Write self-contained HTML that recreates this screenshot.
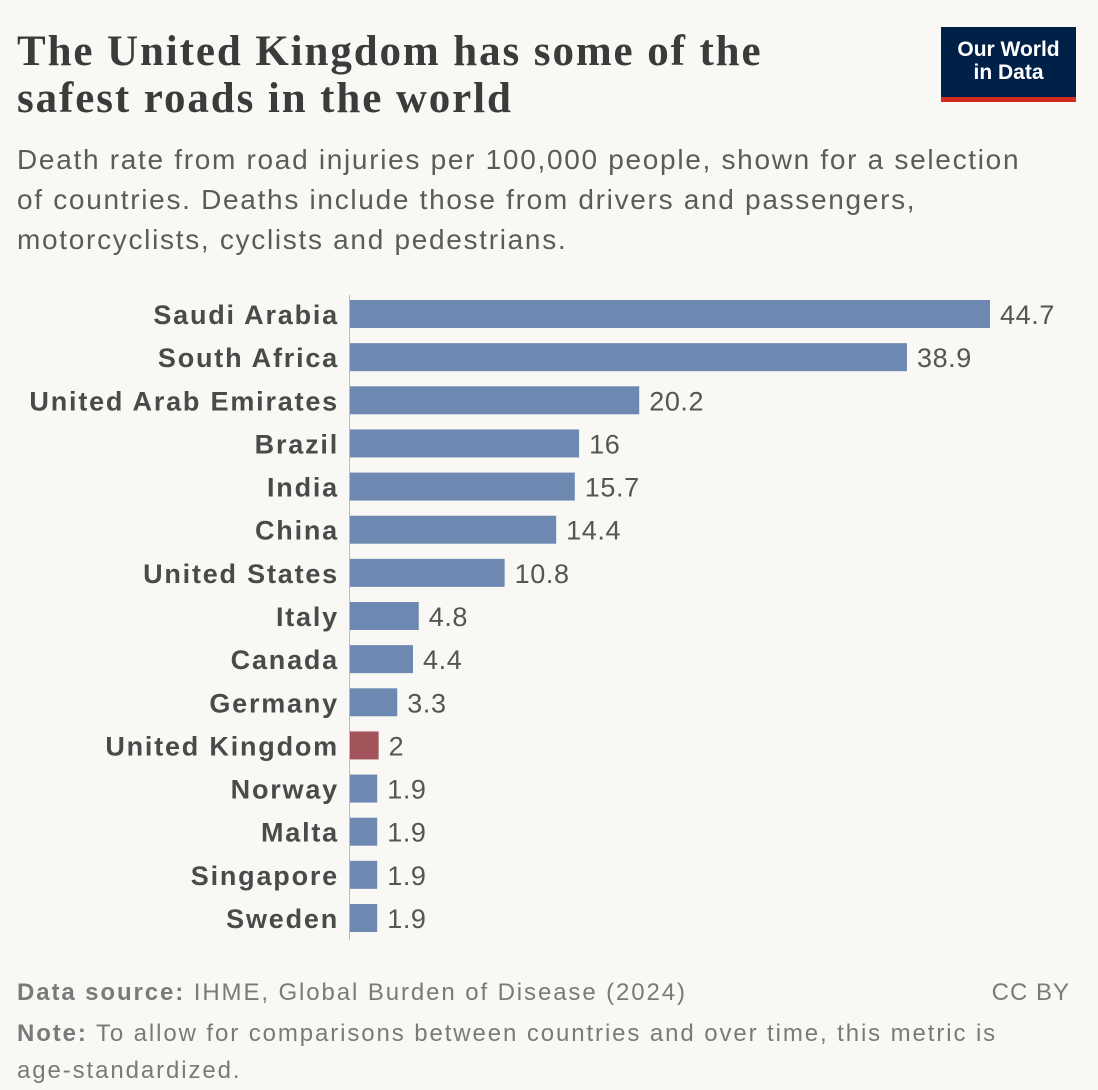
<!DOCTYPE html>
<html><head><meta charset="utf-8"><style>
body{margin:0;background:#f9f8f4;width:1098px;height:1090px;overflow:hidden;position:relative;font-family:"Liberation Sans",sans-serif}
.t{position:absolute;left:17px;top:28px;font-family:"Liberation Serif",serif;font-weight:bold;font-size:43px;letter-spacing:1.9px;line-height:47px;color:#3b3b3b;white-space:nowrap}
.s{position:absolute;left:17px;top:140px;font-size:28px;letter-spacing:1.7px;line-height:40px;color:#5b5b5b;white-space:nowrap}
.logo{position:absolute;left:941px;top:27px;width:135px;height:75px;background:#002147;border-bottom:5px solid #d42b21;box-sizing:border-box;color:#fff;font-size:21px;line-height:23px;text-align:center;padding-top:11px;font-weight:bold}
.f{position:absolute;left:17px;font-size:24px;letter-spacing:1.9px;color:#7a7a7a;white-space:nowrap}
</style></head><body>
<div class="t">The United Kingdom has some of the<br>safest roads in the world</div>
<div class="logo">Our World<br>in Data</div>
<div class="s">Death rate from road injuries per 100,000 people, shown for a selection<br>of countries. Deaths include those from drivers and passengers,<br>motorcyclists, cyclists and pedestrians.</div>
<svg id="c" width="1098" height="960" style="position:absolute;left:0;top:0"></svg>
<div class="f" style="top:979px"><b>Data source:</b> IHME, Global Burden of Disease (2024)</div>
<div class="f" style="top:979px;left:auto;right:28px;letter-spacing:1px">CC BY</div>
<div class="f" style="top:1015px;line-height:37px"><b>Note:</b> To allow for comparisons between countries and over time, this metric is<br>age-standardized.</div>
<script>
const categories=["Saudi Arabia","South Africa","United Arab Emirates","Brazil","India","China","United States","Italy","Canada","Germany","United Kingdom","Norway","Malta","Singapore","Sweden"];
const values=[44.7,38.9,20.2,16,15.7,14.4,10.8,4.8,4.4,3.3,2,1.9,1.9,1.9,1.9];
const labels=["44.7","38.9","20.2","16","15.7","14.4","10.8","4.8","4.4","3.3","2","1.9","1.9","1.9","1.9"];
const highlight="United Kingdom";
const svg=document.getElementById('c');const NS="http://www.w3.org/2000/svg";
const x0=350,k=(990-350)/44.7,y0=314,step=(918-314)/14,bh=28;
const xs=v=>x0+v*k, ys=i=>y0+i*step;
function mk(t,a){const e=document.createElementNS(NS,t);for(const q in a)e.setAttribute(q,a[q]);svg.appendChild(e);return e;}
categories.forEach((c,i)=>{
 const cy=ys(i);
 const r=mk('rect',{x:x0,y:cy-bh/2,width:xs(values[i])-x0,height:bh,fill:c===highlight?'#a2545a':'#6d89b2'});
 
 
 const l=mk('text',{x:339,y:cy+10,'text-anchor':'end','font-size':27,'letter-spacing':1.8,'font-weight':'bold',fill:'#4a4a4a','font-family':'Liberation Sans, sans-serif'});l.textContent=c;
 
 
 const v=mk('text',{x:xs(values[i])+10,y:cy+10,'font-size':27,'letter-spacing':0.6,fill:'#555','font-family':'Liberation Sans, sans-serif'});v.textContent=labels[i];
 
 
});
const ax=mk('line',{x1:349.5,x2:349.5,y1:295,y2:940,stroke:'#bbb','stroke-width':1});


</script>
</body></html>
